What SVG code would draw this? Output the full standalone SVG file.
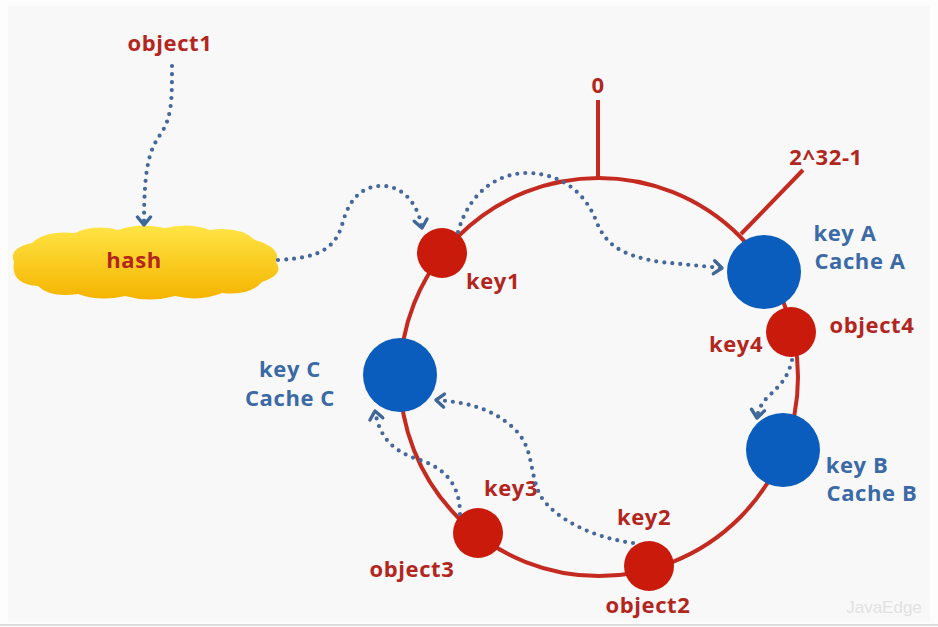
<svg xmlns="http://www.w3.org/2000/svg" width="938" height="627" viewBox="0 0 938 627">
<defs>
<linearGradient id="cloudGrad" x1="0" y1="0" x2="0" y2="1">
<stop offset="0" stop-color="#ffe545"/>
<stop offset="1" stop-color="#f5b400"/>
</linearGradient>
<marker id="chev" viewBox="-11 -9 13 18" markerWidth="13" markerHeight="18" refX="0" refY="0" orient="auto" markerUnits="userSpaceOnUse">
<path d="M-8,-6.5 L0,0 L-8,6.5" fill="none" stroke="#3f6798" stroke-width="3.4" stroke-linecap="round" stroke-linejoin="round"/>
</marker>
<style>
.rt{font-family:"Open Sans","Noto Sans","Liberation Sans",sans-serif;font-weight:bold;font-size:22px;letter-spacing:0.6px;fill:#b3261e;text-anchor:middle}
.bt{font-family:"Open Sans","Noto Sans","Liberation Sans",sans-serif;font-weight:bold;font-size:22px;letter-spacing:0.6px;fill:#3b6aa6;text-anchor:middle}
.ring{fill:none;stroke:#c42a1f;stroke-width:4}
.red{fill:#c91a0c}
.blue{fill:#0a5cbd}
.dot{fill:none;stroke:#46689a;stroke-width:4.2;stroke-linecap:round;stroke-dasharray:0 8;marker-end:url(#chev)}
</style>
</defs>
<rect x="0" y="0" width="938" height="627" fill="#fdfdfd"/>
<rect x="8" y="6" width="922" height="616" fill="#f8f8f8"/>
<line x1="0" y1="625" x2="938" y2="625" stroke="#dcdcdc" stroke-width="2"/>

<g id="ring">
<circle class="ring" cx="599" cy="377" r="199"/>
<line x1="598" y1="100" x2="598" y2="178" stroke="#c42a1f" stroke-width="4"/>
<line x1="741" y1="234" x2="803" y2="170" stroke="#c42a1f" stroke-width="4"/>
<text class="rt" x="598" y="93">0</text>
<text class="rt" x="826" y="165">2^32-1</text>
</g>

<g id="object1">
<text class="rt" x="170" y="51">object1</text>
</g>

<g id="hash">
<path d="M14,262 Q8,248 32,243 Q45,230 75,233 Q95,224 118,230 Q140,222 165,228 Q190,222 210,230 Q240,226 255,240 Q282,248 276,262 Q285,274 262,282 Q250,296 222,293 Q200,302 175,296 Q150,303 125,296 Q100,302 78,294 Q50,298 38,286 Q10,284 14,262 Z" fill="url(#cloudGrad)"/>
<text class="rt" x="134" y="268">hash</text>
</g>

<g id="key1">
<circle class="red" cx="442" cy="253" r="25"/>
<text class="rt" x="493" y="289">key1</text>
</g>

<g id="keyA">
<circle class="blue" cx="764" cy="272" r="37"/>
<text class="bt" x="845" y="241">key A</text>
<text class="bt" x="860" y="269">Cache A</text>
</g>

<g id="key4">
<circle class="red" cx="791" cy="332" r="25"/>
<text class="rt" x="872" y="333">object4</text>
<text class="rt" x="736" y="352">key4</text>
</g>

<g id="keyB">
<circle class="blue" cx="783" cy="450" r="37"/>
<text class="bt" x="857" y="473">key B</text>
<text class="bt" x="872" y="501">Cache B</text>
</g>

<g id="keyC">
<circle class="blue" cx="400" cy="375" r="37"/>
<text class="bt" x="290" y="377">key C</text>
<text class="bt" x="290" y="406">Cache C</text>
</g>

<g id="key3">
<circle class="red" cx="478" cy="533" r="25"/>
<text class="rt" x="511" y="496">key3</text>
<text class="rt" x="412" y="577">object3</text>
</g>

<g id="key2">
<circle class="red" cx="649" cy="566" r="25"/>
<text class="rt" x="644" y="525">key2</text>
<text class="rt" x="648" y="613">object2</text>
</g>

<g id="connectors">
<path class="dot" d="M172,66 C172,100 172,118 160,135 C148,152 144,172 144,225"/>
<path class="dot" d="M278,260 C320,258 335,248 342,225 C350,195 365,185 385,186 C405,188 418,205 422,228"/>
<path class="dot" d="M458,232 C470,190 500,172 530,173 C565,175 585,195 595,218 C605,245 620,255 660,262 L722,268"/>
<path class="dot" d="M792,360 C788,378 780,385 770,395 C762,402 758,410 757,418"/>
<path class="dot" d="M633,543 C595,538 555,520 540,495 C528,470 535,445 510,425 C490,408 465,402 436,400"/>
<path class="dot" d="M460,514 C460,490 450,470 420,460 C395,452 380,440 375,411"/>
</g>

<text x="884" y="613" font-family="Liberation Sans, Arial, sans-serif" font-size="17" fill="#e2e2e2" text-anchor="middle">JavaEdge</text>
</svg>
